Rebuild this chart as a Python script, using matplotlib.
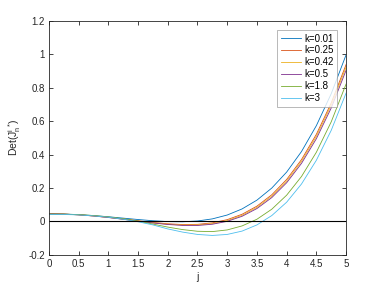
import matplotlib
matplotlib.use("Agg")
import matplotlib.pyplot as plt
from matplotlib.ticker import FormatStrFormatter, FuncFormatter

plt.rcParams['font.family'] = ['Liberation Sans', 'DejaVu Sans']
plt.rcParams['mathtext.default'] = 'regular'

# j grid and Det(J) values
j = [0, 0.25, 0.5, 0.75, 1, 1.25, 1.5, 1.75, 2, 2.25, 2.5,
     2.75, 3, 3.25, 3.5, 3.75, 4, 4.25, 4.5, 4.75, 5]

k001 = [0.045, 0.0438, 0.0404, 0.0349, 0.0278, 0.0196, 0.0113, 0.0040, -0.0011, -0.0022, 0.0025,
        0.0151, 0.0382, 0.0747, 0.1273, 0.1996, 0.2952, 0.4183, 0.5732, 0.7643, 0.9968]
k025 = [0.045, 0.0436, 0.0395, 0.0330, 0.0244, 0.0143, 0.0037, -0.0063, -0.0143, -0.0187, -0.0176,
        -0.0087, 0.0104, 0.0427, 0.0913, 0.1594, 0.2509, 0.3700, 0.5213, 0.7089, 0.9386]
k042 = [0.045, 0.0436, 0.0394, 0.0327, 0.0238, 0.0134, 0.0024, -0.0081, -0.0167, -0.0217, -0.0213,
        -0.0132, 0.0050, 0.0364, 0.0840, 0.1510, 0.2413, 0.3592, 0.5091, 0.6954, 0.9236]
k05 = [0.045, 0.0436, 0.0393, 0.0324, 0.0233, 0.0127, 0.0014, -0.0094, -0.0185, -0.0241, -0.0244,
       -0.0170, 0.0004, 0.0306, 0.0770, 0.1426, 0.2313, 0.3473, 0.4950, 0.6789, 0.9043]
k18 = [0.044, 0.0435, 0.041, 0.035, 0.027, 0.016, 0.002, -0.016, -0.034, -0.049, -0.059,
       -0.061, -0.051, -0.027, 0.013, 0.073, 0.157, 0.269, 0.414, 0.596, 0.822]
k3 = [0.042, 0.0415, 0.039, 0.033, 0.025, 0.013, -0.002, -0.021, -0.045, -0.064, -0.078,
      -0.084, -0.078, -0.058, -0.021, 0.035, 0.115, 0.224, 0.366, 0.545, 0.768]

series = [k001, k025, k042, k05, k18, k3]
labels = ['k=0.01', 'k=0.25', 'k=0.42', 'k=0.5', 'k=1.8', 'k=3']
colors = ['#0072BD', '#D95319', '#EDB120', '#7E2F8E', '#77AC30', '#4DBEEE']

fig = plt.figure(figsize=(3.82, 2.86), dpi=100)
ax = fig.add_axes([0.128, 0.109, 0.778, 0.818])

for vals, lab, c in zip(series, labels, colors):
    ax.plot(j, vals, color=c, lw=0.6, label=lab)
ax.plot([0, 5], [0, 0], color='k', lw=0.8)

ax.set_xlim(0, 5)
ax.set_ylim(-0.2, 1.2)
ax.set_xticks([0, 0.5, 1, 1.5, 2, 2.5, 3, 3.5, 4, 4.5, 5])
ax.set_yticks([-0.2, 0, 0.2, 0.4, 0.6, 0.8, 1, 1.2])
fmt = FuncFormatter(lambda v, p: ('%g' % round(v, 2)))
ax.xaxis.set_major_formatter(fmt)
ax.yaxis.set_major_formatter(fmt)

gray = '#262626'
for s in ax.spines.values():
    s.set_color(gray)
    s.set_linewidth(0.6)
ax.tick_params(direction='in', length=3, width=0.6, colors=gray, labelsize=7,
               top=True, right=True, pad=3)

ax.set_xlabel('j', fontsize=7.5, color=gray, labelpad=2)
ax.set_ylabel(r'Det(J$^{i}_{n}$$^{*}$)', fontsize=7.5, color=gray, labelpad=4)

leg = ax.legend(loc='upper right', fontsize=7, frameon=True, fancybox=False,
                borderaxespad=0.9, labelspacing=0.2, handlelength=2.1,
                handletextpad=0.3, borderpad=0.4)
leg.get_frame().set_edgecolor('#999999')
leg.get_frame().set_linewidth(0.6)

fig.savefig('out.png', dpi=100)
